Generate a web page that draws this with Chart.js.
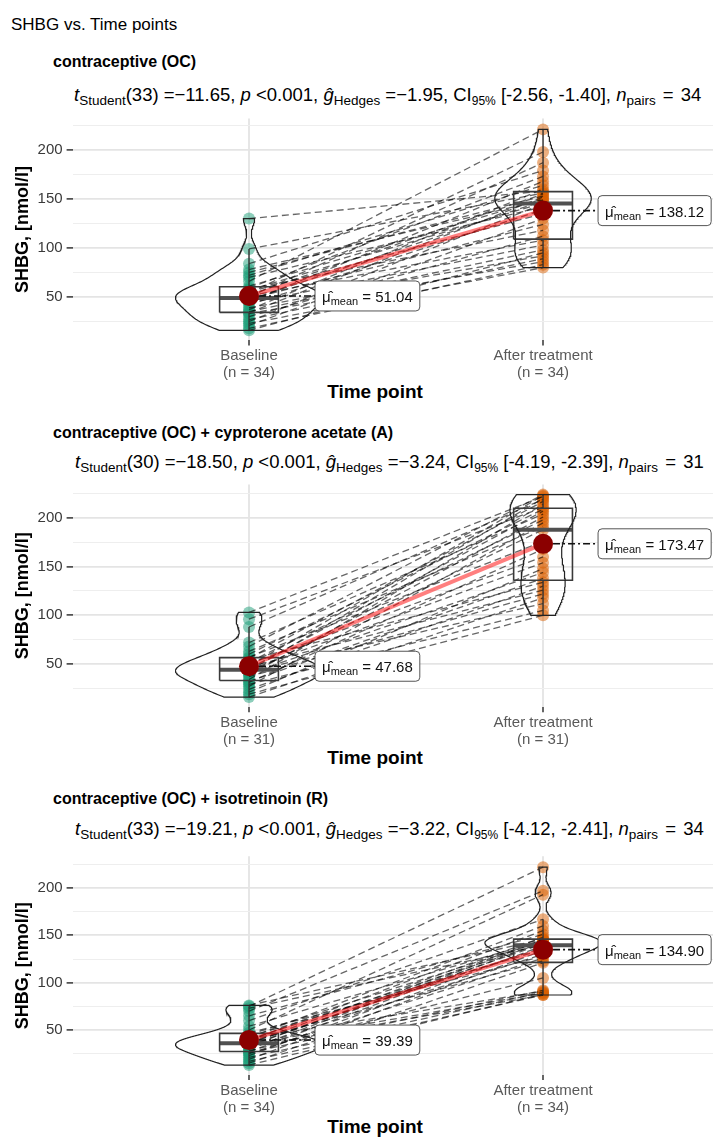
<!DOCTYPE html>
<html>
<head>
<meta charset="utf-8">
<script src="https://cdn.jsdelivr.net/npm/chart.js@4.4.1/dist/chart.umd.min.js"></script>
<style>
  body { margin: 0; width: 713px; height: 1137px; overflow: hidden; background: #fff; position: relative;
         font-family: "Liberation Sans", Arial, sans-serif; color: #000; }
  .t { position: absolute; white-space: nowrap; line-height: 20px; }
  .main { left: 11px; top: 15px; font-size: 17px; }
  .ptitle { font-weight: bold; font-size: 16px; }
  .psub { font-size: 18.5px; }
  .psub sub { font-size: 13.5px; vertical-align: -4px; line-height: 0; }
  .psub sub.s { font-size: 12px; }
  .psub .np { word-spacing: 2px; }
  .xt { font-weight: bold; font-size: 19px; transform: translateX(-50%); }
  canvas { position: absolute; left: 0; }
</style>
</head>
<body>
<div class="t main">SHBG vs. Time points</div>
<div id="panels"></div>
<script>
// SHBG paired plots, three treatment groups.

const timeLabels = ['Baseline', 'After treatment'];
const panelTitles = [
  'contraceptive (OC)',
  'contraceptive (OC) + cyproterone acetate (A)',
  'contraceptive (OC) + isotretinoin (R)',
];
const pairCounts = [34, 31, 34];

// per-subject values, same index = same subject
const baselineOC = [16, 18, 21, 23, 25, 27, 30, 33, 34, 35, 37, 39, 42, 44, 45, 47, 48, 50, 51, 52, 54, 55, 57, 58, 59, 61, 66, 70, 72, 75, 78, 84, 99, 130];
const afterOC = [95, 83, 130, 80, 145, 89, 112, 86, 152, 98, 160, 92, 139, 103, 168, 148, 124, 187, 108, 155, 198, 135, 146, 118, 173, 150, 221, 142, 164, 153, 149, 179, 156, 158];

const baselineOCA = [16, 19, 21, 24, 27, 29, 31, 32, 34, 37, 39, 40, 41, 42, 43, 44, 45, 47, 48, 50, 52, 54, 56, 57, 60, 63, 68, 72, 88, 96, 103];
const afterOCA = [118, 100, 148, 130, 195, 105, 168, 138, 214, 122, 201, 144, 188, 112, 220, 154, 207, 126, 223, 160, 198, 134, 217, 176, 209, 191, 224, 204, 219, 211, 222];

const baselineOCR = [13, 15, 17, 19, 21, 23, 25, 26, 27, 28, 30, 31, 32, 33, 34, 35, 36, 36, 38, 39, 40, 41, 42, 43, 45, 47, 50, 54, 60, 65, 70, 73, 75, 76];
const afterOCR = [88, 121, 87, 134, 90, 139, 126, 92, 143, 105, 145, 130, 87, 146, 141, 89, 137, 148, 123, 155, 142, 91, 160, 135, 144, 128, 193, 145, 167, 151, 197, 140, 222, 146];

const baselineMeans = [51.04, 47.68, 39.39];
const afterMeans = [138.12, 173.47, 134.90];

// subtitle statistics
const dfs = [33, 30, 33];
const tValues = ['\u221211.65', '\u221218.50', '\u221219.21'];
const pTexts = ['<0.001', '<0.001', '<0.001'];
const gHedges = ['\u22121.95', '\u22123.24', '\u22123.22'];
const ciLow = ['-2.56', '-4.19', '-4.12'];
const ciHigh = ['-1.40', '-2.39', '-2.41'];

const yMins = [5.7, 5.6, 2.5];
const yMaxs = [232, 234.4, 233.5];
const yTicks = [25, 50, 75, 100, 125, 150, 175, 200, 225];

const groups = [
  [baselineOC, afterOC],
  [baselineOCA, afterOCA],
  [baselineOCR, afterOCR],
];

// page geometry for each panel
const layout = [
  { top: 110, height: 300, padTop: 8.6, chartH: 221.8, titleY: 52, subY: 85, titleX: 53, subX: 74, xTitleY: 382 },
  { top: 476, height: 300, padTop: 8.5, chartH: 222.7, titleY: 423, subY: 452, titleX: 53, subX: 75, xTitleY: 748 },
  { top: 848, height: 298, padTop: 8.3, chartH: 218.7, titleY: 789, subY: 819, titleX: 53, subX: 75, xTitleY: 1117 },
];

const FONT = '"Liberation Sans", Arial, sans-serif';
Chart.defaults.font.family = FONT;

const colBase = 'rgba(27, 158, 119, 0.5)';
const colAfter = 'rgba(217, 95, 2, 0.5)';

// ----- small stats helpers (ggplot-like) -----

function sorted(v) { return [...v].sort((a, b) => a - b); }

function quantile(s, p) {
  const h = (s.length - 1) * p;
  const lo = Math.floor(h);
  const hi = Math.min(lo + 1, s.length - 1);
  return s[lo] + (h - lo) * (s[hi] - s[lo]);
}

function bwNrd0(v) {
  const s = sorted(v);
  const n = v.length;
  const m = v.reduce((a, b) => a + b, 0) / n;
  const sd = Math.sqrt(v.reduce((a, b) => a + (b - m) ** 2, 0) / (n - 1));
  const iqr = quantile(s, 0.75) - quantile(s, 0.25);
  return 0.9 * Math.min(sd, iqr / 1.34) * Math.pow(n, -0.2);
}

function densityCurve(v) {
  const s = sorted(v);
  const bw = bwNrd0(v);
  const lo = s[0], hi = s[s.length - 1];
  const out = [];
  const steps = 160;
  for (let i = 0; i <= steps; i++) {
    const y = lo + (hi - lo) * i / steps;
    let d = 0;
    for (const x of v) {
      const z = (y - x) / bw;
      d += Math.exp(-0.5 * z * z);
    }
    out.push({ y, d: d / (v.length * bw * Math.sqrt(2 * Math.PI)) });
  }
  return out;
}

function violinPath(curve, pos, maxD) {
  const right = curve.map(p => ({ x: pos + 0.25 * p.d / maxD, y: p.y }));
  const left = curve.slice().reverse().map(p => ({ x: pos - 0.25 * p.d / maxD, y: p.y }));
  return right.concat(left, [right[0]]);
}

function boxParts(v, pos) {
  const s = sorted(v);
  const q1 = quantile(s, 0.25), med = quantile(s, 0.5), q3 = quantile(s, 0.75);
  const iqr = q3 - q1;
  const loW = s.find(x => x >= q1 - 1.5 * iqr);
  const hiW = [...s].reverse().find(x => x <= q3 + 1.5 * iqr);
  const w = 0.1;
  return {
    box: [{ x: pos - w, y: q1 }, { x: pos + w, y: q1 }, { x: pos + w, y: q3 }, { x: pos - w, y: q3 }, { x: pos - w, y: q1 }],
    median: [{ x: pos - w, y: med }, { x: pos + w, y: med }],
    whiskers: [{ x: pos, y: q3 }, { x: pos, y: hiW }, { x: pos, y: null }, { x: pos, y: q1 }, { x: pos, y: loW }],
  };
}

// ----- mean label boxes -----

const meanLabels = {
  id: 'meanLabels',
  afterDatasetsDraw(chart, args, opts) {
    const { ctx, scales: { x, y } } = chart;
    opts.items.forEach(it => {
      const px = x.getPixelForValue(it.pos);
      const py = y.getPixelForValue(it.mean);
      const left = px + it.offset;
      ctx.save();
      ctx.strokeStyle = '#111';
      ctx.lineWidth = 1.6;
      ctx.setLineDash([7, 3, 2, 3]);
      ctx.beginPath();
      ctx.moveTo(px + 10, py);
      ctx.lineTo(left, py);
      ctx.stroke();
      ctx.setLineDash([]);

      const mainFont = '15px ' + FONT;
      const subFont = '11px ' + FONT;
      const mu = '\u03bc\u0302';
      const rest = ' = ' + it.mean.toFixed(2);
      ctx.font = mainFont;
      const wMu = ctx.measureText(mu).width;
      const wRest = ctx.measureText(rest).width;
      ctx.font = subFont;
      const wSub = ctx.measureText('mean').width;
      const padX = 7;
      const w = padX * 2 + wMu + wSub + wRest;
      const h = 30;
      const top = py - h / 2;

      ctx.beginPath();
      ctx.roundRect(left, top, w, h, 4);
      ctx.fillStyle = '#fff';
      ctx.fill();
      ctx.strokeStyle = '#555';
      ctx.lineWidth = 1;
      ctx.stroke();

      ctx.fillStyle = '#111';
      ctx.textBaseline = 'alphabetic';
      ctx.font = mainFont;
      ctx.fillText(mu, left + padX, py + 6);
      ctx.font = subFont;
      ctx.fillText('mean', left + padX + wMu, py + 9);
      ctx.font = mainFont;
      ctx.fillText(rest, left + padX + wMu + wSub, py + 6);
      ctx.restore();
    });
  },
};

// ----- build panels -----

const holder = document.getElementById('panels');

groups.forEach(([base, after], i) => {
  const L = layout[i];

  const title = document.createElement('div');
  title.className = 't ptitle';
  title.style.left = L.titleX + 'px';
  title.style.top = L.titleY + 'px';
  title.textContent = panelTitles[i];
  holder.appendChild(title);

  const sub = document.createElement('div');
  sub.className = 't psub';
  sub.style.left = L.subX + 'px';
  sub.style.top = L.subY + 'px';
  sub.innerHTML = `<i>t</i><sub>Student</sub>(${dfs[i]}) =${tValues[i]}, <i>p</i> ${pTexts[i].replace('<', '&lt;')}, ` +
    `<i>g&#770;</i><sub>Hedges</sub> =${gHedges[i]}, CI<sub class="s">95%</sub> [${ciLow[i]}, ${ciHigh[i]}], ` +
    `<span class="np"><i>n</i><sub>pairs</sub> = ${pairCounts[i]}</span>`;
  holder.appendChild(sub);

  const xt = document.createElement('div');
  xt.className = 't xt';
  xt.style.left = '375px';
  xt.style.top = L.xTitleY + 'px';
  xt.textContent = 'Time point';
  holder.appendChild(xt);

  const canvas = document.createElement('canvas');
  canvas.width = 713;
  canvas.height = L.height;
  canvas.style.top = L.top + 'px';
  holder.appendChild(canvas);

  const curveB = densityCurve(base);
  const curveA = densityCurve(after);
  const maxD = Math.max(...curveB.map(p => p.d), ...curveA.map(p => p.d));
  const boxB = boxParts(base, 1);
  const boxA = boxParts(after, 2);

  const pairSets = base.map((b, k) => ({
    data: [{ x: 1, y: b }, { x: 2, y: after[k] }],
    showLine: true,
    borderColor: 'rgba(0, 0, 0, 0.6)',
    borderWidth: 1.3,
    borderDash: [7, 4],
    pointRadius: 0,
    order: 50,
  }));

  const outline = (data, color, width, order) => ({
    data, showLine: true, borderColor: color, borderWidth: width, pointRadius: 0, spanGaps: false, order,
  });

  const xHeight = L.height - L.padTop - L.chartH;

  new Chart(canvas, {
    type: 'scatter',
    data: {
      datasets: [
        { data: base.map(v => ({ x: 1, y: v })), backgroundColor: colBase, borderWidth: 0, pointRadius: 6, order: 60 },
        { data: after.map(v => ({ x: 2, y: v })), backgroundColor: colAfter, borderWidth: 0, pointRadius: 6, order: 60 },
        ...pairSets,
        outline(boxB.box, '#3a3a3a', 1.6, 40),
        outline(boxA.box, '#3a3a3a', 1.6, 40),
        outline(boxB.median, '#505050', 4, 40),
        outline(boxA.median, '#505050', 4, 40),
        outline(boxB.whiskers, '#333', 1.4, 40),
        outline(boxA.whiskers, '#333', 1.4, 40),
        outline(violinPath(curveB, 1, maxD), '#222', 1.2, 30),
        outline(violinPath(curveA, 2, maxD), '#222', 1.2, 30),
        outline([{ x: 1, y: baselineMeans[i] }, { x: 2, y: afterMeans[i] }], 'rgba(255, 0, 0, 0.5)', 4, 20),
        { data: [{ x: 1, y: baselineMeans[i] }, { x: 2, y: afterMeans[i] }], backgroundColor: '#8b0000', borderWidth: 0, pointRadius: 10, order: 10 },
      ],
    },
    options: {
      responsive: false,
      animation: false,
      events: [],
      layout: { autoPadding: false, padding: { top: L.padTop, left: 12, right: 0, bottom: 0 } },
      plugins: {
        legend: { display: false },
        tooltip: { enabled: false },
        meanLabels: {
          items: [
            { pos: 1, mean: baselineMeans[i], offset: 66 },
            { pos: 2, mean: afterMeans[i], offset: 55 },
          ],
        },
      },
      scales: {
        x: {
          type: 'linear',
          min: 0.4,
          max: 2.578,
          afterBuildTicks: s => { s.ticks = [{ value: 1 }, { value: 2 }]; },
          afterFit: s => { s.height = xHeight; s.paddingLeft = 0; s.paddingRight = 0; },
          border: { display: false },
          grid: { color: '#e6e6e6', lineWidth: 2, tickColor: '#333', tickLength: 5, tickWidth: 1.5 },
          ticks: {
            padding: 2,
            color: '#595959',
            font: { size: 15, lineHeight: 1.15 },
            maxRotation: 0,
            callback: v => [timeLabels[v - 1], `(n = ${pairCounts[i]})`],
          },
        },
        y: {
          min: yMins[i],
          max: yMaxs[i],
          afterBuildTicks: s => { s.ticks = yTicks.map(v => ({ value: v })); },
          afterFit: s => { s.width = 60.6; s.paddingTop = 0; s.paddingBottom = 0; },
          border: { display: false },
          grid: {
            color: c => (c.tick && c.tick.value % 50 === 0 ? '#e4e4e4' : '#eeeeee'),
            lineWidth: c => (c.tick && c.tick.value % 50 === 0 ? 1.8 : 1),
            tickColor: c => (c.tick && c.tick.value % 50 === 0 ? '#333' : 'rgba(0,0,0,0)'),
            tickLength: 6,
            tickWidth: 1.5,
          },
          ticks: {
            padding: 4,
            color: '#3a3a3a',
            font: { size: 15, lineHeight: 1 },
            callback: v => (v % 50 === 0 ? v : ''),
          },
          title: {
            display: true,
            text: 'SHBG, [nmol/l]',
            color: '#000',
            font: { size: 18, weight: 'bold' },
            padding: { top: 0, bottom: 0 },
          },
        },
      },
    },
    plugins: [meanLabels],
  });
});
</script>
</body>
</html>
